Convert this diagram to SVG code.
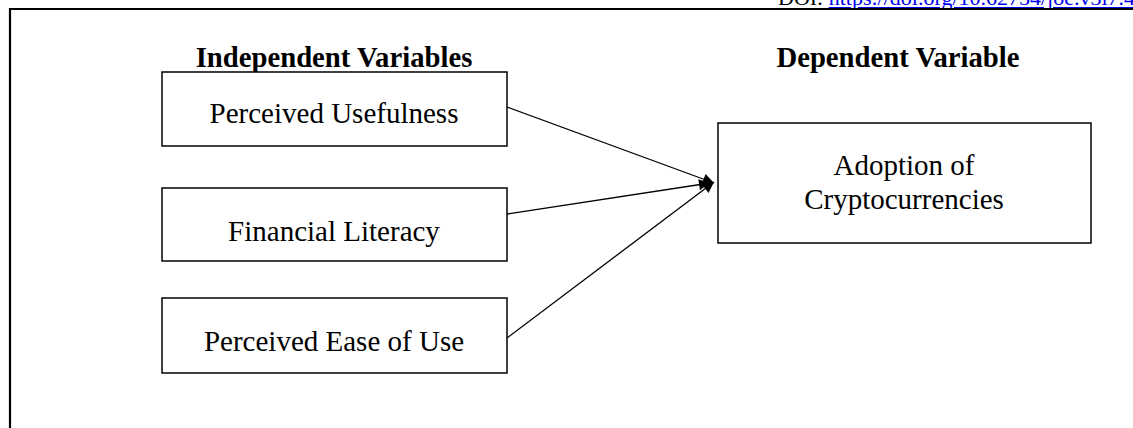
<svg xmlns="http://www.w3.org/2000/svg" width="1133" height="428" viewBox="0 0 1133 428">
<style>
.box{fill:#fff;stroke:#000;stroke-width:1.5}
.t{font-family:"Liberation Serif","Times New Roman",serif;font-size:29px;fill:#000;text-anchor:middle}
.h{font-family:"Liberation Serif","Times New Roman",serif;font-size:28.7px;font-weight:bold;fill:#000;text-anchor:middle}
.c{stroke:#000;stroke-width:1.3;fill:none;marker-end:url(#ah)}
.doi{font-family:"Liberation Serif","Times New Roman",serif;font-size:22px;fill:#000}
</style>
<defs>
<marker id="ah" viewBox="0 0 10 10" refX="10" refY="5" markerWidth="15" markerHeight="11" markerUnits="userSpaceOnUse" orient="auto">
<path d="M0,0 L10,5 L0,10 z" fill="#000"/>
</marker>
</defs>
<rect width="1133" height="428" fill="#fff"/>
<text class="doi" x="778" y="5">DOI: <tspan fill="#0000ee" text-decoration="underline">https://doi.org/10.62754/joe.v3i7.4</tspan></text>
<path d="M10,428 V9 H1133" fill="none" stroke="#000" stroke-width="2.2"/>
<g id="heading-independent"><text class="h" x="334" y="67">Independent Variables</text></g>
<g id="heading-dependent"><text class="h" x="898" y="67">Dependent Variable</text></g>
<g id="node-pu"><rect class="box" x="162" y="72" width="345" height="74"/><text class="t" x="334" y="123">Perceived Usefulness</text></g>
<g id="node-fl"><rect class="box" x="162" y="188" width="345" height="73"/><text class="t" x="334" y="241">Financial Literacy</text></g>
<g id="node-peou"><rect class="box" x="162" y="298" width="345" height="75"/><text class="t" x="334" y="351">Perceived Ease of Use</text></g>
<g id="node-adoption"><rect class="box" x="718" y="123" width="373" height="120"/><text class="t" x="904" y="175">Adoption of</text><text class="t" x="904" y="209">Cryptocurrencies</text></g>
<g id="connectors">
<line class="c" x1="507" y1="107" x2="714" y2="183"/>
<line class="c" x1="507" y1="214" x2="710" y2="183"/>
<line class="c" x1="507" y1="338" x2="714" y2="182"/>
</g>
</svg>
